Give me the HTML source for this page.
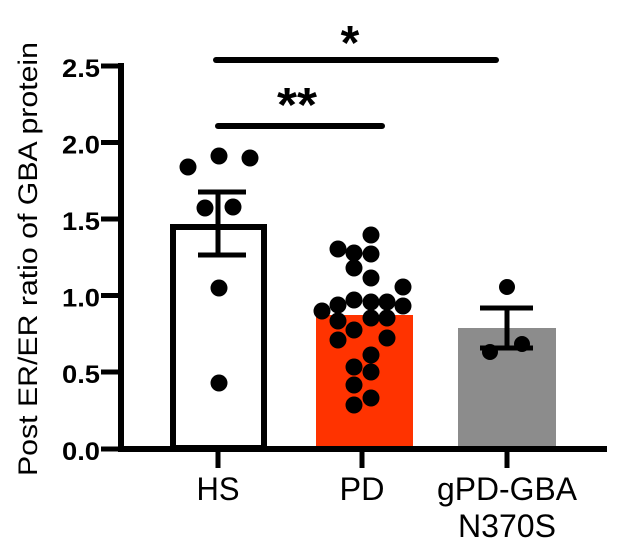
<!DOCTYPE html>
<html><head><style>
html,body{margin:0;padding:0;background:#fff;}
svg{display:block;}
text{font-family:"Liberation Sans",Arial,sans-serif;fill:#000;}
</style></head><body>
<svg width="621" height="550" viewBox="0 0 621 550">
<!-- bars -->
<rect x="173" y="227" width="91" height="221" fill="#fff" stroke="#000" stroke-width="6"/>
<rect x="316" y="315" width="97" height="133" fill="#ff3300"/>
<rect x="458" y="328" width="98" height="120" fill="#8c8c8c"/>
<!-- axes -->
<line x1="121" y1="63" x2="121" y2="451" stroke="#000" stroke-width="6"/>
<line x1="118" y1="449" x2="607" y2="449" stroke="#000" stroke-width="6"/>
<g stroke="#000" stroke-width="5">
<line x1="101" y1="66" x2="121" y2="66"/>
<line x1="101" y1="142.5" x2="121" y2="142.5"/>
<line x1="101" y1="219" x2="121" y2="219"/>
<line x1="101" y1="295.5" x2="121" y2="295.5"/>
<line x1="101" y1="372" x2="121" y2="372"/>
<line x1="101" y1="449" x2="121" y2="449"/>
<line x1="218" y1="449" x2="218" y2="468"/>
<line x1="362" y1="449" x2="362" y2="468"/>
<line x1="507" y1="449" x2="507" y2="468"/>
</g>
<g font-size="25" font-weight="bold" text-anchor="end">
<text x="100" y="77" textLength="38" lengthAdjust="spacingAndGlyphs">2.5</text>
<text x="100" y="153.5" textLength="38" lengthAdjust="spacingAndGlyphs">2.0</text>
<text x="100" y="230" textLength="38" lengthAdjust="spacingAndGlyphs">1.5</text>
<text x="100" y="306.5" textLength="38" lengthAdjust="spacingAndGlyphs">1.0</text>
<text x="100" y="383" textLength="38" lengthAdjust="spacingAndGlyphs">0.5</text>
<text x="100" y="460" textLength="38" lengthAdjust="spacingAndGlyphs">0.0</text>
</g>
<text transform="translate(37,259) rotate(-90)" font-size="27" text-anchor="middle" textLength="434" lengthAdjust="spacingAndGlyphs">Post ER/ER ratio of GBA protein</text>
<g font-size="32" text-anchor="middle">
<text x="218" y="500" textLength="43" lengthAdjust="spacingAndGlyphs">HS</text>
<text x="362" y="500" textLength="45" lengthAdjust="spacingAndGlyphs">PD</text>
<text x="507" y="500" textLength="140" lengthAdjust="spacingAndGlyphs">gPD-GBA</text>
<text x="507" y="537" textLength="98" lengthAdjust="spacingAndGlyphs">N370S</text>
</g>
<!-- error bars -->
<g stroke="#000" stroke-width="5">
<line x1="218" y1="192" x2="218" y2="255"/>
<line x1="198" y1="192" x2="246" y2="192"/>
<line x1="198" y1="255" x2="246" y2="255"/>
<line x1="507" y1="308" x2="507" y2="348"/>
<line x1="480" y1="308" x2="533" y2="308"/>
<line x1="480" y1="348" x2="533" y2="348"/>
</g>
<!-- significance -->
<line x1="216" y1="60" x2="496" y2="60" stroke="#000" stroke-width="6" stroke-linecap="round"/>
<line x1="218" y1="126" x2="382" y2="126" stroke="#000" stroke-width="6" stroke-linecap="round"/>
<text x="350" y="59" font-size="48" font-weight="bold" text-anchor="middle">*</text>
<text x="297" y="121" font-size="48" font-weight="bold" text-anchor="middle" textLength="40" lengthAdjust="spacingAndGlyphs">**</text>
<!-- dots -->
<g fill="#000">
<circle cx="188" cy="167" r="8.5"/><circle cx="219" cy="156" r="8.5"/><circle cx="250" cy="158" r="8.5"/>
<circle cx="205" cy="208" r="8.5"/><circle cx="233" cy="207" r="8.5"/><circle cx="219" cy="288" r="8.5"/>
<circle cx="219" cy="383" r="8.5"/>
<circle cx="371" cy="235" r="8.5"/><circle cx="338" cy="249" r="8.5"/><circle cx="354" cy="253" r="8.5"/>
<circle cx="371" cy="254" r="8.5"/><circle cx="354" cy="268" r="8.5"/><circle cx="371" cy="278" r="8.5"/>
<circle cx="403" cy="287" r="8.5"/><circle cx="322" cy="311" r="8.5"/><circle cx="338" cy="305" r="8.5"/>
<circle cx="354" cy="300" r="8.5"/><circle cx="371" cy="302" r="8.5"/><circle cx="387" cy="302" r="8.5"/>
<circle cx="403" cy="306" r="8.5"/><circle cx="338" cy="321" r="8.5"/><circle cx="354" cy="330" r="8.5"/>
<circle cx="371" cy="318" r="8.5"/><circle cx="387" cy="318" r="8.5"/><circle cx="338" cy="340" r="8.5"/>
<circle cx="387" cy="338" r="8.5"/><circle cx="371" cy="355" r="8.5"/><circle cx="354" cy="367" r="8.5"/>
<circle cx="371" cy="372" r="8.5"/><circle cx="354" cy="385" r="8.5"/><circle cx="371" cy="398" r="8.5"/>
<circle cx="354" cy="405" r="8.5"/>
<circle cx="507" cy="287" r="8"/><circle cx="490" cy="352" r="8"/><circle cx="522" cy="344" r="8"/>
</g>
</svg>
</body></html>
